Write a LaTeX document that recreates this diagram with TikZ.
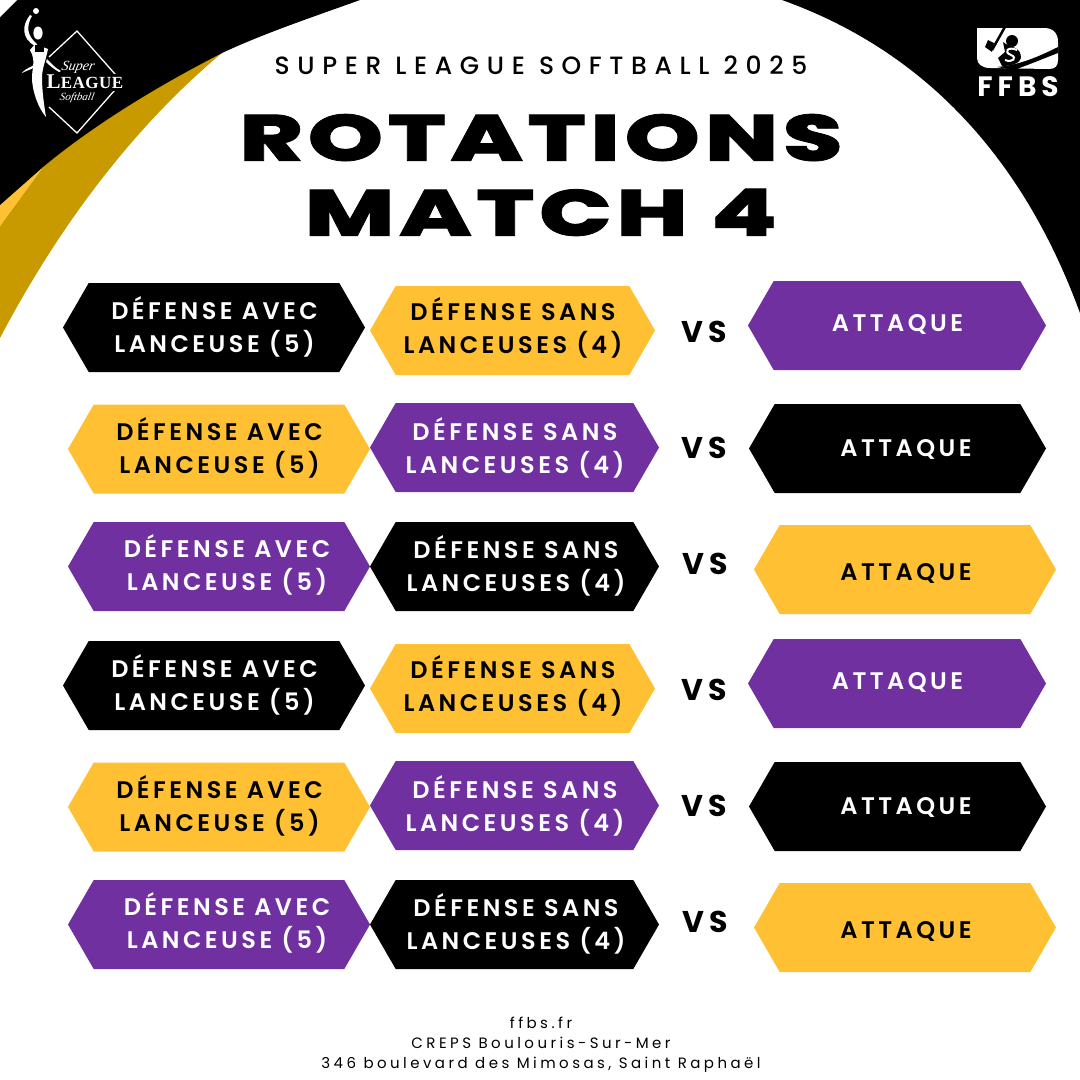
\documentclass[tikz,border=0pt]{standalone}
\usepackage{fontspec}
\usetikzlibrary{shapes.symbols,positioning}
\setmainfont{Poppins}
\newfontfamily\cellfont[LetterSpace=14.5]{Poppins SemiBold}
\newfontfamily\vsfont[LetterSpace=16]{Poppins Bold}
\newfontfamily\headfont[LetterSpace=30.5]{Poppins Medium}
\newfontfamily\titlefont[LetterSpace=7,FakeStretch=1.48,FakeBold=1.2]{Poppins ExtraBold}
\newfontfamily\footfont[LetterSpace=23]{Poppins}
\newfontfamily\logofont[LetterSpace=18]{Poppins Bold}
\newfontfamily\leaguefont[LetterSpace=3]{Liberation Serif}
\newfontfamily\signfont{Liberation Serif}
\definecolor{leagueyellow}{HTML}{FFC133}
\definecolor{leaguegold}{HTML}{C99A00}
\definecolor{leaguepurple}{HTML}{7030A0}
\tikzset{
  hexcell/.style={shape=signal, signal to=west and east, signal pointer angle=120, inner sep=0pt, outer sep=0pt, minimum height=89pt},
  hextext/.style={font=\cellfont\fontsize{24}{33}\selectfont, align=center, inner sep=0pt},
  vstext/.style={font=\vsfont\fontsize{30}{33}\selectfont, inner sep=0pt},
  attext/.style={font=\cellfont\fontsize{24}{33}\selectfont, inner sep=0pt},
}
\begin{document}
\begin{tikzpicture}[x=1pt,y=-1pt]
\useasboundingbox (0,0) rectangle (1080,1080);
\fill[white] (0,0) rectangle (1080,1080);

% Corners
\fill[leaguegold] (222,53) -- (100,80) -- (43,167) -- (0,226) -- (0,338)
  .. controls (70,205) and (150,113) .. (222,53) -- cycle;
\fill[leagueyellow] (0,205) -- (43,160) -- (43,167) -- (0,226) -- cycle;
\fill[black] (0,0) -- (360,0) .. controls (310,18) and (265,33) .. (222,53)
  .. controls (150,90) and (90,128) .. (43,167) -- (0,205) -- cycle;
\fill[black] (782,0) .. controls (950,60) and (1035,190) .. (1080,313) -- (1080,0) -- cycle;
\fill[white] (0,0) -- (17,0) -- (0,17) -- cycle;

% League logo
\draw[white, line width=1.3pt] (49,57) -- (77,31) -- (122,82) -- (77,133) -- (49,107);
\fill[black] (60,74) rectangle (124,91);
\fill[white] (36,11) circle (3);
\fill[white] (38,33) ellipse (4.6 and 6.5);
\fill[white] (30,15) .. controls (22,25) and (21,38) .. (35,46) -- (37,44)
  .. controls (27,36) and (26,26) .. (32,16) -- cycle;
\fill[white] (35,44) -- (48,49) .. controls (46,60) and (42,68) .. (42,78)
  .. controls (42,90) and (44,105) .. (46,117) .. controls (38,108) and (32,90) .. (32,78)
  .. controls (32,68) and (36,60) .. (30,50) -- cycle;
\fill[white] (22,73) .. controls (27,67) and (31,68) .. (35,64) -- (35,67)
  .. controls (30,70) and (28,70) .. (22,73) -- cycle;
\fill[white] (47,59) .. controls (52,64) and (55,68) .. (61,71) -- (59,72)
  .. controls (54,69) and (50,66) .. (46,62) -- cycle;
\fill[black] (35,45) rectangle (44,52);
\node[font=\leaguefont\bfseries\fontsize{17}{17}\selectfont, text=white, inner sep=0pt] (league) at (85,82) {\fontsize{21}{17}\selectfont L\fontsize{17}{17}\selectfont EAGUE};
\node[font=\signfont\itshape\fontsize{14}{14}\selectfont, text=white, inner sep=0pt, xslant=0.2] (super) at (78,67) {Super};
\node[font=\signfont\itshape\fontsize{11}{11}\selectfont, text=white, inner sep=0pt, xslant=0.2] (softball) at (77,98) {Softball};

% FFBS logo
\fill[white] (977,28) -- (1044,28) .. controls (1053,28) and (1058,33) .. (1058,42) -- (1058,60)
  .. controls (1058,66) and (1055,69) .. (1049,69) -- (990,68)
  .. controls (982,68) and (977,64) .. (977,58) -- cycle;
\fill[black] (1014,70) -- (997,67) .. controls (1020,65) and (1040,56) .. (1058,47) -- (1058,53)
  .. controls (1040,60) and (1028,65) .. (1014,70) -- cycle;
\draw[black, line width=2.5pt] (1006,25) -- (992,50);
\fill[black] (1012,41) circle (6);
\fill[black] (1003,42) .. controls (1010,48) and (1021,46) .. (1021,58)
  .. controls (1020,63) and (1012,66) .. (1002,66) -- (998,58) -- (1005,52) -- cycle;
\fill[black] (988,40) -- (994,43) -- (992,52) -- (985,47) -- cycle;
\draw[white, line width=2pt] (1017,50) .. controls (1008,46) and (1003,52) .. (1011,55)
  .. controls (1018,58) and (1012,63) .. (1005,60);
\node[font=\logofont\fontsize{28}{28}\selectfont, text=white, inner sep=0pt] (ffbs) at (1018,87) {FFBS};

% Heading
\node[font=\headfont\fontsize{25}{30}\selectfont, inner sep=0pt] (heading) at (541,65) {SUPER LEAGUE SOFTBALL 2025};
\node[font=\titlefont\fontsize{65}{75}\selectfont, align=center, inner sep=0pt] (title) at (541,175) {ROTATIONS\\MATCH 4};

% Rows
\foreach \dy/\r in {0/a,358/b} {
  \node[hexcell, fill=black, minimum width=302pt] (c1\r) at (214,327.5+\dy) {};
  \node[hextext, text=white] (t1\r) at (214.5,327+\dy) {DÉFENSE AVEC\\LANCEUSE (5)};
  \node[hexcell, fill=leagueyellow, minimum width=285pt] (c2\r) at (512.5,330.5+\dy) {};
  \node[hextext, text=black] (t2\r) at (513,328+\dy) {DÉFENSE SANS\\LANCEUSES (4)};
  \node[vstext] (v1\r) at (704,332+\dy) {VS};
  \node[hexcell, fill=leaguepurple, minimum width=298pt] (c3\r) at (897,325.5+\dy) {};
  \node[attext, text=white] (t3\r) at (897.5,324+\dy) {ATTAQUE};

  \node[hexcell, fill=leagueyellow, minimum width=302pt] (c4\r) at (219,449+\dy) {};
  \node[hextext, text=black] (t4\r) at (219.5,448+\dy) {DÉFENSE AVEC\\LANCEUSE (5)};
  \node[hexcell, fill=leaguepurple, minimum width=289pt] (c5\r) at (514.5,447.5+\dy) {};
  \node[hextext, text=white] (t5\r) at (515,448+\dy) {DÉFENSE SANS\\LANCEUSES (4)};
  \node[vstext] (v2\r) at (704.5,448+\dy) {VS};
  \node[hexcell, fill=black, minimum width=297pt] (c6\r) at (897.5,448.5+\dy) {};
  \node[attext, text=white] (t6\r) at (906,449+\dy) {ATTAQUE};

  \node[hexcell, fill=leaguepurple, minimum width=302pt] (c7\r) at (219,566.5+\dy) {};
  \node[hextext, text=white] (t7\r) at (227,565+\dy) {DÉFENSE AVEC\\LANCEUSE (5)};
  \node[hexcell, fill=black, minimum width=289pt] (c8\r) at (514.5,566.5+\dy) {};
  \node[hextext, text=white] (t8\r) at (516,566+\dy) {DÉFENSE SANS\\LANCEUSES (4)};
  \node[vstext] (v3\r) at (705,564+\dy) {VS};
  \node[hexcell, fill=leagueyellow, minimum width=302pt] (c9\r) at (905,569.5+\dy) {};
  \node[attext, text=black] (t9\r) at (906,573+\dy) {ATTAQUE};
}

% Footer
\node[font=\footfont\fontsize{15}{20}\selectfont, align=center, inner sep=0pt] (foot) at (541,1045) {ffbs.fr\\CREPS Boulouris-Sur-Mer\\346 boulevard des Mimosas, Saint Raphaël};
\end{tikzpicture}
\end{document}
